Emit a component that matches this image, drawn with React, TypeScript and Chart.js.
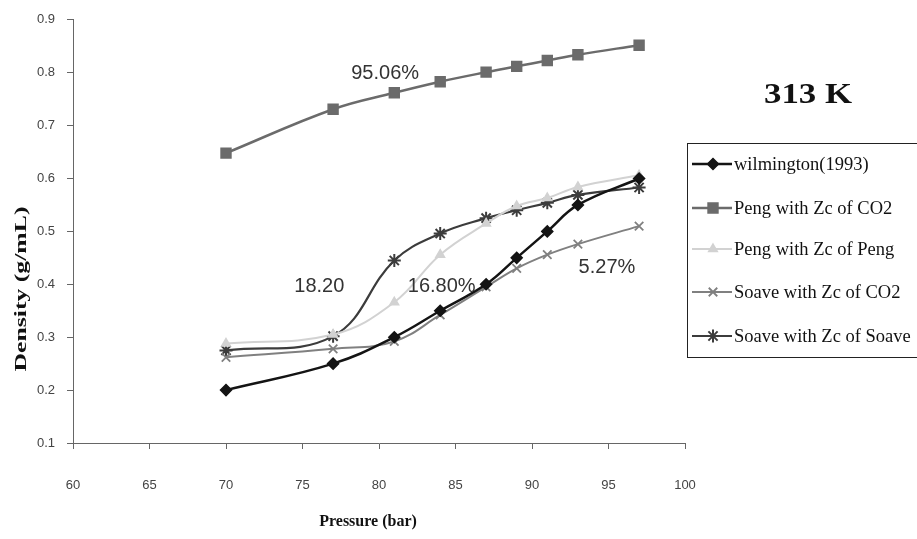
import React, { useEffect, useRef } from 'react';
import { Chart, registerables } from 'chart.js';
import { drawPoint } from 'chart.js/helpers';

Chart.register(...registerables);

// ---------- data ----------
const pressure = [70, 77, 81, 84, 87, 89, 91, 93, 97];
const wilmington = [0.2, 0.25, 0.3, 0.35, 0.4, 0.45, 0.5, 0.55, 0.6];
const pengCO2 = [0.648, 0.731, 0.762, 0.783, 0.801, 0.812, 0.823, 0.834, 0.852];
const pengPeng = [0.288, 0.305, 0.366, 0.456, 0.515, 0.548, 0.563, 0.584, 0.606];
const soaveCO2 = [0.262, 0.278, 0.292, 0.342, 0.395, 0.43, 0.456, 0.476, 0.51];
const soaveSoave = [0.275, 0.302, 0.445, 0.496, 0.525, 0.54, 0.554, 0.569, 0.583];

const seriesNames = [
  'wilmington(1993)',
  'Peng with Zc of CO2',
  'Peng with Zc of Peng',
  'Soave with Zc of CO2',
  'Soave with Zc of Soave',
];

const xTitle = 'Pressure (bar)';
const yTitle = 'Density (g/mL)';
const chartLabel = '313 K';

const noteTexts = ['95.06%', '18.20', '16.80%', '5.27%'];
const noteX = [80.4, 76.1, 84.1, 94.9];
const noteY = [0.798, 0.396, 0.396, 0.431];

const X_MIN = 60, X_MAX = 100, X_STEP = 5;
const Y_MIN = 0.1, Y_MAX = 0.9, Y_STEP = 0.1;

const SANS = '"Liberation Sans", Arial, sans-serif';
const SERIF = '"Liberation Serif", "Times New Roman", serif';

const styles = [
  { color: '#141414', pointStyle: 'rectRot', radius: 5.5, width: 2.5, pw: 1.5 },
  { color: '#6b6b6b', pointStyle: 'rect', radius: 7, width: 2.5, pw: 1.5 },
  { color: '#d2d2d2', pointStyle: 'triangle', radius: 5, width: 2, pw: 1.5 },
  { color: '#808080', pointStyle: 'crossRot', radius: 6, width: 2, pw: 1.8 },
  { color: '#3c3c3c', pointStyle: 'star', radius: 6.5, width: 2.2, pw: 2 },
];

const seriesValues = [wilmington, pengCO2, pengPeng, soaveCO2, soaveSoave];

const overlayPlugin = {
  id: 'overlay',
  afterDraw(chart: any) {
    const ctx = chart.ctx as CanvasRenderingContext2D;
    const xs = chart.scales.x;
    const ys = chart.scales.y;
    ctx.save();

    // annotations
    ctx.fillStyle = '#333';
    ctx.font = `20px ${SANS}`;
    ctx.textAlign = 'center';
    ctx.textBaseline = 'middle';
    noteTexts.forEach((t, i) => {
      ctx.fillText(t, xs.getPixelForValue(noteX[i]), ys.getPixelForValue(noteY[i]));
    });

    // big label
    ctx.fillStyle = '#111';
    ctx.save();
    ctx.translate(808, 96);
    ctx.scale(1.2, 1);
    ctx.font = `bold 29px ${SERIF}`;
    ctx.fillText(chartLabel, 0, 0);
    ctx.restore();

    // axis titles
    ctx.font = `bold 16px ${SERIF}`;
    ctx.fillText(xTitle, 368, 522);
    ctx.save();
    ctx.translate(22, 289);
    ctx.rotate(-Math.PI / 2);
    ctx.font = `bold 17px ${SERIF}`;
    const w = ctx.measureText(yTitle).width;
    ctx.scale(165 / w, 1);
    ctx.fillText(yTitle, 0, 0);
    ctx.restore();

    // legend
    ctx.strokeStyle = '#222';
    ctx.lineWidth = 1;
    ctx.strokeRect(687.5, 143.5, 260, 214);
    const rows = [164, 208, 249, 292, 336];
    chart.data.datasets.forEach((ds: any, i: number) => {
      const y = rows[i];
      ctx.strokeStyle = ds.borderColor;
      ctx.fillStyle = ds.borderColor;
      ctx.lineWidth = ds.borderWidth;
      ctx.beginPath();
      ctx.moveTo(692, y);
      ctx.lineTo(732, y);
      ctx.stroke();
      ctx.lineWidth = ds.pointBorderWidth;
      drawPoint(ctx, { pointStyle: ds.pointStyle, radius: ds.pointRadius, borderWidth: ds.pointBorderWidth, rotation: 0 } as any, 713, y);
      ctx.fillStyle = '#111';
      ctx.font = `18.5px ${SERIF}`;
      ctx.textAlign = 'left';
      ctx.textBaseline = 'middle';
      ctx.fillText(ds.label, 734, y + 1);
    });

    ctx.restore();
  },
};

export default function App() {
  const ref = useRef<HTMLCanvasElement | null>(null);

  useEffect(() => {
    if (!ref.current) return;
    const chart = new Chart(ref.current, {
      type: 'line',
      data: {
        datasets: seriesValues.map((vals, i) => ({
          label: seriesNames[i],
          data: pressure.map((p, j) => ({ x: p, y: vals[j] })),
          borderColor: styles[i].color,
          backgroundColor: styles[i].color,
          pointBackgroundColor: styles[i].color,
          pointBorderColor: styles[i].color,
          pointStyle: styles[i].pointStyle as any,
          pointRadius: styles[i].radius,
          pointBorderWidth: styles[i].pw,
          borderWidth: styles[i].width,
          tension: 0.4,
          fill: false,
        })),
      },
      options: {
        responsive: false,
        animation: false,
        layout: { padding: { top: 19, right: 232, left: 0, bottom: 0 } },
        plugins: { legend: { display: false }, tooltip: { enabled: false } },
        scales: {
          x: {
            type: 'linear',
            min: X_MIN,
            max: X_MAX,
            ticks: { stepSize: X_STEP, color: '#444', font: { family: SANS, size: 13 }, padding: 29 },
            grid: { drawOnChartArea: false, tickLength: 6, color: '#666' },
            border: { color: '#666' },
            afterFit: (s: any) => { s.height = 96; },
          },
          y: {
            type: 'linear',
            min: Y_MIN,
            max: Y_MAX,
            ticks: {
              stepSize: Y_STEP,
              color: '#444',
              font: { family: SANS, size: 13 },
              padding: 12,
              callback: (v: any) => Number(v).toFixed(1),
            },
            grid: { drawOnChartArea: false, tickLength: 6, color: '#666' },
            border: { color: '#666' },
            afterFit: (s: any) => { s.width = 73; },
          },
        },
      },
      plugins: [overlayPlugin],
    });
    return () => chart.destroy();
  }, []);

  return (
    <div style={{ position: 'fixed', left: 0, top: 0, width: 917, height: 539, background: '#fff' }}>
      <canvas ref={ref} width={917} height={539} style={{ width: 917, height: 539 }} />
    </div>
  );
}
